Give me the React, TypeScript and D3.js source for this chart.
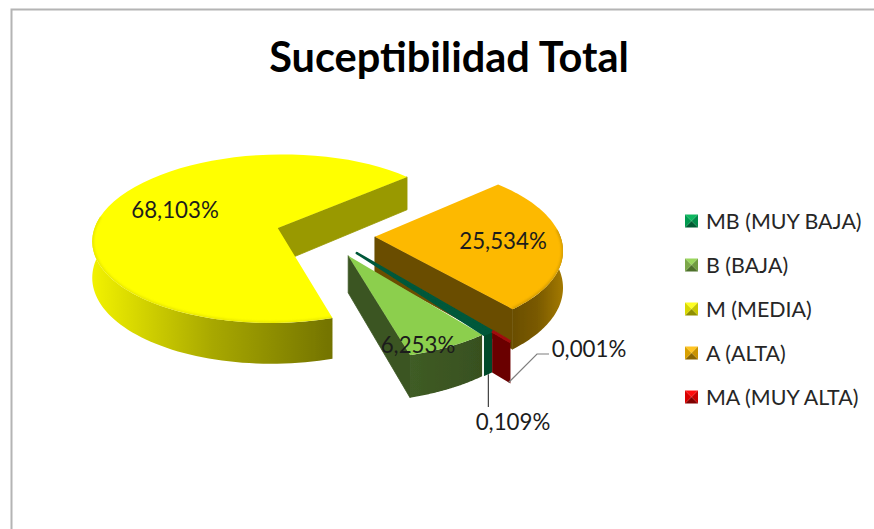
import React from "react";
import * as d3 from "d3";

const categories = ["MB (MUY BAJA)", "B (BAJA)", "M (MEDIA)", "A (ALTA)", "MA (MUY ALTA)"];
const seriesValues = [0.109, 6.253, 68.103, 25.534, 0.001];
const valueLabels = ["0,109%", "6,253%", "68,103%", "25,534%", "0,001%"];
const faceColors = ["#00583a", "#8ccf4d", "#ffff00", "#fdb900", "#a01010"];
const wallColors = ["#004a2a", "#3b5522", "#999900", "#6a4e00", "#6b0000"];
const rimStops = [
  ["#004a2a", "#004a2a"],
  ["#3f5c25", "#38501f"],
  ["#f2f200", "#a8a800", "#737300"],
  ["#6a4e00", "#7a5a00", "#a37900"],
  ["#6b0000", "#6b0000"],
];
// key shades: top, right, bottom, left
const keyShades = [
  ["#10b860", "#008a48", "#005a30", "#009a50"],
  ["#9ad65c", "#6f9c40", "#4d7029", "#7ca848"],
  ["#ffff20", "#c8c800", "#8f8f00", "#d8d800"],
  ["#ffc420", "#c99200", "#8a6500", "#d8a000"],
  ["#ff1010", "#c80000", "#800000", "#d80000"],
];
const labelPos = [[513, 421], [418, 344], [175, 209], [503, 240], [589, 348]];
const sliceTurnDeg = [0, 0, -1.6, -1.6, 0];

const W = 874, H = 529;
const Xc = 325, Yc = 234.6, R = 185, S = 84.6, K = 0.128, EXPLODE = 0.27, DEPTH = 36;
const START_DEG = 141.6, MIN_SWEEP_DEG = 3, MA_OVERHANG = 0.12;
const rad = (d: number) => (d * Math.PI) / 180;
const TAU = Math.PI * 2;

// plane (u, v) -> screen, a mild perspective squashes the far half of the disc
const project = (u: number, v: number, down = 0): [number, number] => {
  const w = 1 + K * v;
  return [Xc + (R * u) / w, Yc - (S * v) / w + down / w];
};

const pie = d3
  .pie<number>()
  .sort(null)
  .startAngle(rad(START_DEG))
  .endAngle(rad(START_DEG + 360));
const arcs = pie(seriesValues);
const line = d3.line();

type Geo = { ou: number; ov: number; a0: number; a1: number };
const geos: Geo[] = arcs.map((d, i) => {
  const mid = (d.startAngle + d.endAngle) / 2;
  const wrap = d.startAngle >= TAU ? TAU : 0;
  const thin = d.index === 0;
  const turn = rad(sliceTurnDeg[i]);
  return {
    ou: EXPLODE * Math.sin(mid),
    ov: EXPLODE * Math.cos(mid),
    a0: d.startAngle - wrap + turn,
    a1: thin ? d.startAngle + rad(MIN_SWEEP_DEG) : d.endAngle - wrap + turn,
  };
});

const rimPt = (g: Geo, a: number, down = 0, r = 1) =>
  project(g.ou + r * Math.sin(a), g.ov + r * Math.cos(a), down);
const samples = (a0: number, a1: number) => d3.range(0, 61).map((i) => a0 + ((a1 - a0) * i) / 60);

const facePath = (g: Geo) => {
  const pts = [project(g.ou, g.ov), ...samples(g.a0, g.a1).map((a) => rimPt(g, a))];
  return line(pts) + "Z";
};
const frontA0 = (g: Geo) => Math.max(g.a0, rad(85));
const frontA1 = (g: Geo) => Math.min(g.a1, rad(278));
const rimArc = (g: Geo) => line(samples(frontA0(g), frontA1(g)).map((a) => rimPt(g, a))) || "";
const rimWall = (g: Geo) => {
  const as = samples(frontA0(g), frontA1(g));
  const pts = [...as.map((a) => rimPt(g, a)), ...as.slice().reverse().map((a) => rimPt(g, a, DEPTH))];
  return line(pts) + "Z";
};
const radialWall = (g: Geo, a: number) =>
  line([
    project(g.ou, g.ov),
    rimPt(g, a),
    rimPt(g, a, DEPTH),
    project(g.ou, g.ov, DEPTH),
  ]) + "Z";

const maA = geos[0].a0;
const maWall =
  line([
    rimPt(geos[0], maA),
    rimPt(geos[0], maA, 0, 1 + MA_OVERHANG),
    rimPt(geos[0], maA, DEPTH, 1 + MA_OVERHANG),
    rimPt(geos[0], maA, DEPTH),
  ]) + "Z";
const maTop = rimPt(geos[0], maA);
const maTip = rimPt(geos[0], maA, 0, 1 + MA_OVERHANG);

// radial wall that faces the viewer for each slice (the thin MB slice shows none)
const wallAngle = [null, geos[1].a1, geos[2].a1, geos[3].a1, null];

const legendX = 685, legendY = 221, legendStep = 44, keySize = 13;
const keyTri = (x: number, y: number, side: number) => {
  const s = keySize, c: [number, number] = [x + s / 2, y + s / 2];
  const corners: [number, number][] = [[x, y], [x + s, y], [x + s, y + s], [x, y + s]];
  return line([corners[side], corners[(side + 1) % 4], c]) + "Z";
};

const font = "Lato, Carlito, Calibri, sans-serif";

export default function App() {
  return (
    <svg width={W} height={H} style={{ position: "absolute", left: 0, top: 0, background: "#fff" }}>
      <defs>
        {rimStops.map((st, i) => (
          <linearGradient key={i} id={`rim${i}`} x1="0" x2="1" y1="0" y2="0">
            {st.map((c, j) => (
              <stop key={j} offset={j / (st.length - 1)} stopColor={c} />
            ))}
          </linearGradient>
        ))}
        <filter id="soft" x="-5%" y="-5%" width="110%" height="110%">
          <feGaussianBlur stdDeviation="0.5" />
        </filter>
        <filter id="bevel" x="-5%" y="-5%" width="110%" height="110%">
          <feGaussianBlur stdDeviation="1.2" />
        </filter>
        {[2, 3].map((i) => (
          <clipPath key={i} id={`face${i}`}>
            <path d={facePath(geos[i])} />
          </clipPath>
        ))}
      </defs>
      <path d="M11.5 530V9.5H874" fill="none" stroke="#b4b4b4" strokeWidth={2} />
      <text
        x={449}
        y={56}
        textAnchor="middle"
        dominantBaseline="central"
        fontFamily={font}
        fontWeight={700}
        fontSize={41.5}
        fill="#000"
      >
        Suceptibilidad Total
      </text>
      <g filter="url(#soft)">
        {[2, 3, 1, 0].map((i) => {
          const wa = wallAngle[i];
          return (
            <g key={categories[i]}>
              {wa !== null && (
                <path d={radialWall(geos[i], wa)} fill={wallColors[i]} stroke={wallColors[i]} strokeWidth={0.8} />
              )}
              <path d={rimWall(geos[i])} fill={`url(#rim${i})`} />
              <path
                d={facePath(geos[i])}
                fill={faceColors[i]}
                stroke={i === 0 ? faceColors[i] : "none"}
                strokeWidth={i === 0 ? 2.5 : 0}
                strokeLinejoin="round"
              />
              {i >= 2 && (
                <g clipPath={`url(#face${i})`}>
                  <path
                    d={rimArc(geos[i])}
                    fill="none"
                    stroke={i === 2 ? "#d8d800" : "#b98a00"}
                    strokeWidth={3}
                    opacity={0.6}
                    filter="url(#bevel)"
                  />
                </g>
              )}
            </g>
          );
        })}
        <path d={maWall} fill={wallColors[4]} />
        <path d={line([maTop, maTip]) || ""} stroke={faceColors[4]} strokeWidth={3} fill="none" />
      </g>
      <path
        d={line([rimPt(geos[0], geos[0].a0 + rad(1.4), DEPTH), [rimPt(geos[0], geos[0].a0 + rad(1.4), DEPTH)[0], labelPos[0][1] - 14]]) || ""}
        stroke="#404040"
        strokeWidth={1.2}
        fill="none"
      />
      <path
        d={line([
          rimPt(geos[0], maA, DEPTH, 1 + MA_OVERHANG * 0.9),
          [labelPos[4][0] - 52, labelPos[4][1] + 6],
          [labelPos[4][0] - 40, labelPos[4][1] + 6],
        ]) || ""}
        stroke="#7f7f7f"
        strokeWidth={1.2}
        fill="none"
      />
      {valueLabels.map((t, i) => (
        <text
          key={t}
          x={labelPos[i][0]}
          y={labelPos[i][1]}
          textAnchor="middle"
          dominantBaseline="central"
          fontFamily={font}
          fontSize={22.3}
          fill="#1c1c1c"
        >
          {t}
        </text>
      ))}
      {categories.map((c, i) => {
        const y = legendY + i * legendStep;
        return (
          <g key={c}>
            <g filter="url(#soft)">
              {[0, 1, 2, 3].map((s) => (
                <path key={s} d={keyTri(legendX, y - keySize / 2, s)} fill={keyShades[i][s]} />
              ))}
            </g>
            <text
              x={706}
              y={y}
              dominantBaseline="central"
              fontFamily={font}
              fontSize={21.4}
              fill="#262626"
            >
              {c}
            </text>
          </g>
        );
      })}
    </svg>
  );
}
